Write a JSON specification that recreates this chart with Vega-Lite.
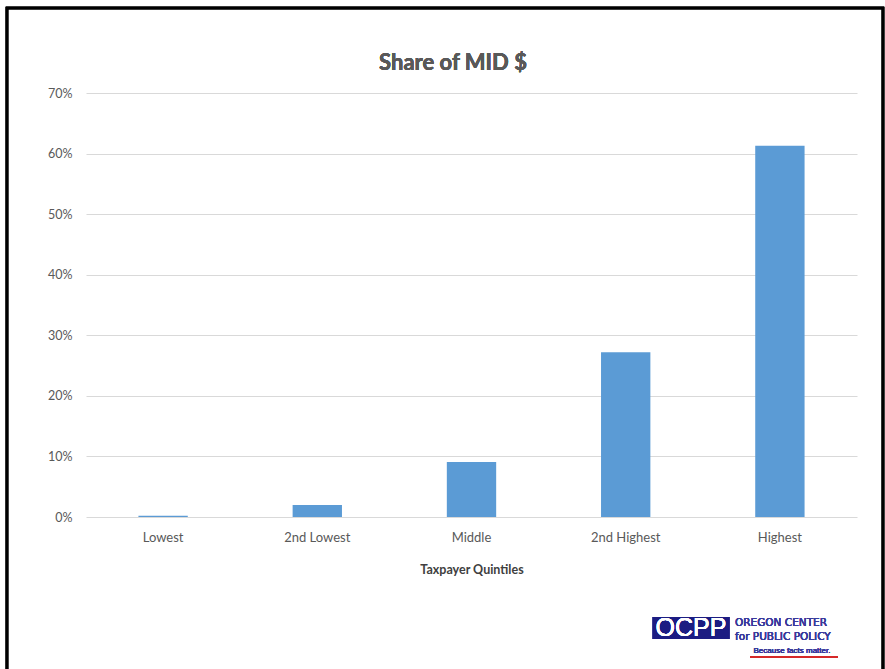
{
  "$schema": "https://vega.github.io/schema/vega-lite/v6.json",
  "autosize": {"type": "none"},
  "padding": {"left": 86, "top": 93, "right": 28, "bottom": 152},
  "width": 771,
  "height": 424,
  "background": "white",
  "config": {"view": {"stroke": null}},
  "data": {"values": [
    {"quintile": "Lowest", "share": 0.002},
    {"quintile": "2nd Lowest", "share": 0.020},
    {"quintile": "Middle", "share": 0.091},
    {"quintile": "2nd Highest", "share": 0.272},
    {"quintile": "Highest", "share": 0.613}
  ]},
  "layer": [
    {
      "mark": {"type": "bar", "color": "#5B9BD5"},
      "encoding": {
        "x": {"field": "quintile", "type": "nominal", "sort": null,
          "scale": {"paddingInner": 0.68, "paddingOuter": 0.34},
          "axis": {"title": "Taxpayer Quintiles", "labelAngle": 0, "domain": false, "ticks": false,
            "labelFont": "Lato", "labelFontSize": 13, "labelColor": "#595959", "labelPadding": 14,
            "titleFont": "Lato", "titleFontSize": 12.5, "titleFontWeight": "bold", "titleColor": "#404040", "titlePadding": 19}},
        "y": {"field": "share", "type": "quantitative",
          "scale": {"domain": [0, 0.7], "nice": false},
          "axis": {"title": null, "format": ".0%", "values": [0, 0.1, 0.2, 0.3, 0.4, 0.5, 0.6, 0.7],
            "domain": false, "ticks": false, "gridColor": "#d9d9d9", "gridWidth": 1,
            "labelFont": "Lato", "labelFontSize": 12.5, "labelColor": "#595959", "labelPadding": 14}}
      }
    },
    {
      "layer": [
        {
          "mark": {"type": "text", "text": "Share of MID $", "font": "Lato", "fontSize": 22, "fontWeight": "bold", "color": "#595959", "align": "center", "baseline": "middle"},
          "encoding": {
            "x": {"datum": 0.476, "type": "quantitative", "scale": {"domain": [0, 1], "nice": false, "zero": false}, "axis": null},
            "y": {"datum": 0.7495, "type": "quantitative", "scale": {"domain": [0, 0.7], "nice": false}}
          }
        },
        {
          "mark": {"type": "rect", "fill": null, "stroke": "black", "strokeWidth": 2.5},
          "encoding": {
            "x": {"datum": -0.1025, "type": "quantitative", "scale": {"domain": [0, 1], "nice": false, "zero": false}, "axis": null},
            "x2": {"datum": 1.0337},
            "y": {"datum": 0.8403, "type": "quantitative", "scale": {"domain": [0, 0.7], "nice": false}},
            "y2": {"datum": -0.30}
          }
        },
        {
          "mark": {"type": "rect", "color": "#1c1c82"},
          "encoding": {
            "x": {"datum": 0.735, "type": "quantitative", "scale": {"domain": [0, 1], "nice": false, "zero": false}, "axis": null},
            "x2": {"datum": 0.8345},
            "y": {"datum": -0.1651, "type": "quantitative", "scale": {"domain": [0, 0.7], "nice": false}},
            "y2": {"datum": -0.2014}
          }
        },
        {
          "mark": {"type": "text", "text": "OCPP", "font": "Liberation Sans", "fontSize": 25, "color": "white", "align": "center", "baseline": "middle"},
          "encoding": {
            "x": {"datum": 0.7847, "type": "quantitative", "scale": {"domain": [0, 1], "nice": false, "zero": false}, "axis": null},
            "y": {"datum": -0.1835, "type": "quantitative", "scale": {"domain": [0, 0.7], "nice": false}}
          }
        },
        {
          "mark": {"type": "text", "text": "OREGON CENTER", "font": "DejaVu Sans", "fontSize": 10.5, "color": "#3a3a9c", "align": "left", "baseline": "middle"},
          "encoding": {
            "x": {"datum": 0.8418, "type": "quantitative", "scale": {"domain": [0, 1], "nice": false, "zero": false}, "axis": null},
            "y": {"datum": -0.175, "type": "quantitative", "scale": {"domain": [0, 0.7], "nice": false}}
          }
        },
        {
          "mark": {"type": "text", "text": "for PUBLIC POLICY", "font": "DejaVu Sans", "fontSize": 10.5, "color": "#3a3a9c", "align": "left", "baseline": "middle"},
          "encoding": {
            "x": {"datum": 0.8418, "type": "quantitative", "scale": {"domain": [0, 1], "nice": false, "zero": false}, "axis": null},
            "y": {"datum": -0.1981, "type": "quantitative", "scale": {"domain": [0, 0.7], "nice": false}}
          }
        },
        {
          "mark": {"type": "text", "text": "Because facts matter.", "font": "Liberation Sans", "fontSize": 8, "color": "#3a3a9c", "align": "center", "baseline": "middle"},
          "encoding": {
            "x": {"datum": 0.9157, "type": "quantitative", "scale": {"domain": [0, 1], "nice": false, "zero": false}, "axis": null},
            "y": {"datum": -0.2212, "type": "quantitative", "scale": {"domain": [0, 0.7], "nice": false}}
          }
        },
        {
          "mark": {"type": "rule", "color": "#d42a2a", "strokeWidth": 1.5},
          "encoding": {
            "x": {"datum": 0.8612, "type": "quantitative", "scale": {"domain": [0, 1], "nice": false, "zero": false}, "axis": null},
            "x2": {"datum": 0.9754},
            "y": {"datum": -0.2311, "type": "quantitative", "scale": {"domain": [0, 0.7], "nice": false}}
          }
        }
      ]
    }
  ],
  "resolve": {"scale": {"x": "independent"}}
}
